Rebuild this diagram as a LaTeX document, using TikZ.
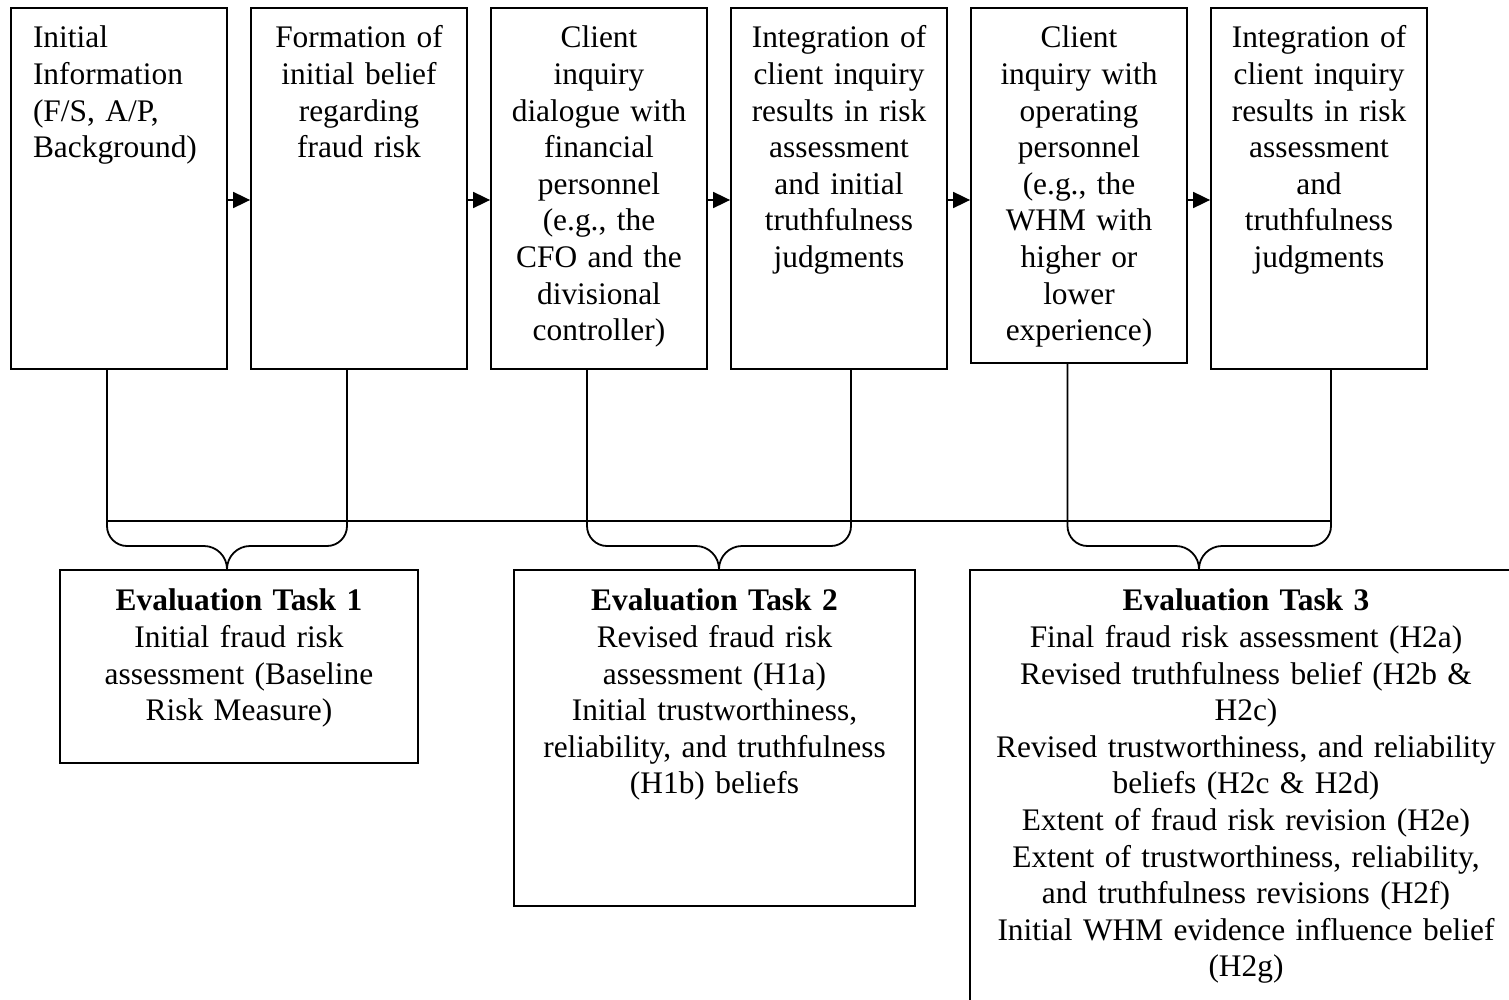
\documentclass[tikz,border=0pt]{standalone}
\usepackage{fontspec}
\setmainfont{Liberation Serif}
\usepackage{tikz}
\usetikzlibrary{positioning,arrows.meta,calc}

\begin{document}
\begin{tikzpicture}[x=0.5pt, y=-0.5pt, font=\fontsize{15.7}{18.3}\selectfont]
    \tikzstyle{stage} = [rectangle, draw, line width=0.9pt, text width=100pt, inner xsep=4pt, inner ysep=0pt, align=center, text height=20pt, text depth=160.5pt]
    \tikzstyle{task} = [rectangle, draw, line width=0.9pt, inner xsep=4pt, inner ysep=0pt, align=center, text height=20.5pt, anchor=north]
    \tikzstyle{flow} = [-{Triangle[length=8.5pt,width=8pt]}, line width=0.9pt]
    \tikzstyle{brace} = [line width=0.9pt]

    \useasboundingbox (0,0) rectangle (1509,1000);

    % Process stages
    \node [stage, align=left, inner xsep=11pt, text width=86pt, anchor=north] (info) at (119,7) {Initial\\ Information\\ (F/S, A/P,\\ Background)};
    \node [stage, right=11.1pt of info] (belief) {Formation of\\ initial belief\\ regarding\\ fraud risk};
    \node [stage, right=11.1pt of belief] (cfo) {Client\\ inquiry\\ dialogue with\\ financial\\ personnel\\ (e.g., the\\ CFO and the\\ divisional\\ controller)};
    \node [stage, right=11.1pt of cfo] (integ1) {Integration of\\ client inquiry\\ results in risk\\ assessment\\ and initial\\ truthfulness\\ judgments};
    \node [stage, text depth=157.5pt, right=11.1pt of integ1.north east, anchor=north west] (whm) {Client\\ inquiry with\\ operating\\ personnel\\ (e.g., the\\ WHM with\\ higher or\\ lower\\ experience)};
    \node [stage, right=11.1pt of whm.north east, anchor=north west] (integ2) {Integration of\\ client inquiry\\ results in risk\\ assessment\\ and\\ truthfulness\\ judgments};

    % Evaluation tasks
    \node [task, text width=171pt, text depth=76pt] (task1) at (239,569) {\textbf{Evaluation Task 1}\\ Initial fraud risk\\ assessment (Baseline\\ Risk Measure)};
    \node [task, text width=192.5pt, text depth=147.5pt] (task2) at (714.5,569) {\textbf{Evaluation Task 2}\\ Revised fraud risk\\ assessment (H1a)\\ Initial trustworthiness,\\ reliability, and truthfulness\\ (H1b) beliefs};
    \node [task, text width=268pt, text depth=200pt] (task3) at (1246,569) {\textbf{Evaluation Task 3}\\ Final fraud risk assessment (H2a)\\ Revised truthfulness belief (H2b \&\\ H2c)\\ Revised trustworthiness, and reliability\\ beliefs (H2c \& H2d)\\ Extent of fraud risk revision (H2e)\\ Extent of trustworthiness, reliability,\\ and truthfulness revisions (H2f)\\ Initial WHM evidence influence belief\\ (H2g)};

    % Arrows
    \draw [flow] ([yshift=-96.5pt]info.north east) -- ([yshift=-96.5pt]info.north east -| belief.west);
    \draw [flow] ([yshift=-96.5pt]belief.north east) -- ([yshift=-96.5pt]belief.north east -| cfo.west);
    \draw [flow] ([yshift=-96.5pt]cfo.north east) -- ([yshift=-96.5pt]cfo.north east -| integ1.west);
    \draw [flow] ([yshift=-96.5pt]integ1.north east) -- ([yshift=-96.5pt]integ1.north east -| whm.west);
    \draw [flow] ([yshift=-96.5pt]whm.north east) -- ([yshift=-96.5pt]whm.north east -| integ2.west);

    % Brace arms and tips
    \coordinate (a1) at ([xshift=-6pt]info.south);
    \coordinate (a2) at ([xshift=-6pt]belief.south);
    \coordinate (a3) at ([xshift=-6pt]cfo.south);
    \coordinate (a4) at ([xshift=6pt]integ1.south);
    \coordinate (a5) at ([xshift=-5.75pt]whm.south);
    \coordinate (a6) at ([xshift=6pt]integ2.south);
    \coordinate (t1) at ([xshift=-6pt]task1.north);
    \coordinate (t2) at ([xshift=2.25pt]task2.north);
    \coordinate (t3) at ([xshift=-23.5pt]task3.north);
    \coordinate (bus) at (0,521);

    \draw [brace] (a1 |- bus) -- (a6 |- bus);
    \draw [brace] (t1) .. controls +(0,6.3pt) and +(6.3pt,0) .. ([xshift=-11.5pt,yshift=11.5pt]t1) [rounded corners=10pt] -| (a1);
    \draw [brace] (t1) .. controls +(0,6.3pt) and +(-6.3pt,0) .. ([xshift=11.5pt,yshift=11.5pt]t1) [rounded corners=10pt] -| (a2);
    \draw [brace] (t2) .. controls +(0,6.3pt) and +(6.3pt,0) .. ([xshift=-11.5pt,yshift=11.5pt]t2) [rounded corners=10pt] -| (a3);
    \draw [brace] (t2) .. controls +(0,6.3pt) and +(-6.3pt,0) .. ([xshift=11.5pt,yshift=11.5pt]t2) [rounded corners=10pt] -| (a4);
    \draw [brace] (t3) .. controls +(0,6.3pt) and +(6.3pt,0) .. ([xshift=-11.5pt,yshift=11.5pt]t3) [rounded corners=10pt] -| (a5);
    \draw [brace] (t3) .. controls +(0,6.3pt) and +(-6.3pt,0) .. ([xshift=11.5pt,yshift=11.5pt]t3) [rounded corners=10pt] -| (a6);
\end{tikzpicture}
\end{document}
